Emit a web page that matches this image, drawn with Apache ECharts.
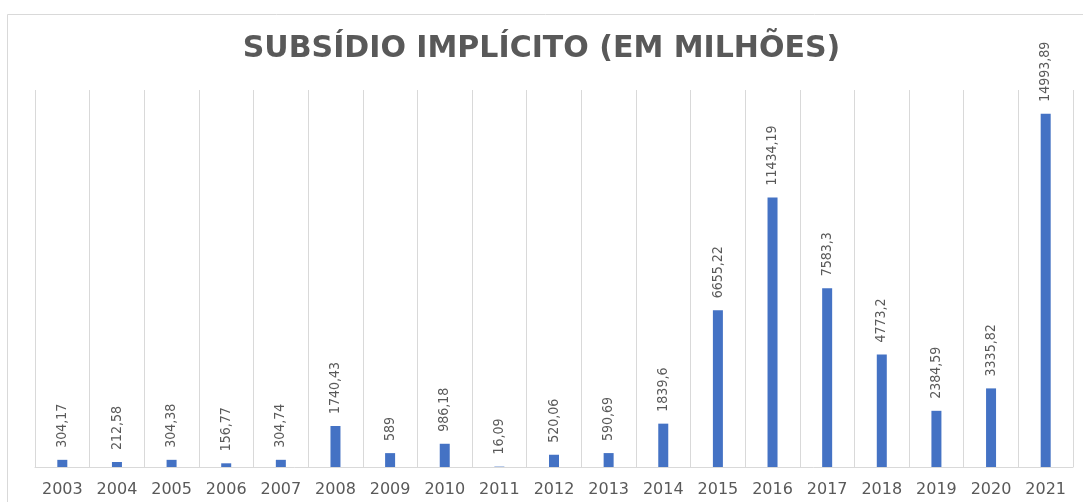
<!DOCTYPE html>
<html><head><meta charset="utf-8">
<script src="https://cdn.jsdelivr.net/npm/echarts@6/dist/echarts.min.js"></script>
<style>html,body{margin:0;padding:0;background:#fff}#c{width:1083px;height:502px}</style>
</head><body><div id="c"></div>
<script>
const categories = ['2003','2004','2005','2006','2007','2008','2009','2010','2011','2012','2013','2014','2015','2016','2017','2018','2019','2020','2021'];
const values = [304.17,212.58,304.38,156.77,304.74,1740.43,589,986.18,16.09,520.06,590.69,1839.6,6655.22,11434.19,7583.3,4773.2,2384.59,3335.82,14993.89];
const titleText = 'SUBSÍDIO IMPLÍCITO (EM MILHÕES)';

const chart = echarts.init(document.getElementById('c'), null, {renderer:'canvas'});
chart.setOption({
  animation:false,
  backgroundColor:'#fff',
  title:{text:titleText,left:'center',top:29,
    textStyle:{fontFamily:'DejaVu Sans',fontWeight:'bold',fontSize:30,color:'#595959'}},
  graphic:[{type:'rect',left:5,top:12,shape:{width:1076,height:495},style:{fill:'none',stroke:'#d9d9d9',lineWidth:1},silent:true}],
  grid:{left:35,right:10,top:90,bottom:35,containLabel:false},
  xAxis:{type:'category',data:categories,boundaryGap:true,
    axisLine:{lineStyle:{color:'#d9d9d9',width:1}},
    axisTick:{show:false},
    splitLine:{show:true,lineStyle:{color:'#d9d9d9',width:1}},
    axisLabel:{color:'#595959',fontSize:16,fontFamily:'DejaVu Sans',margin:15,interval:0}},
  yAxis:{type:'value',min:0,max:16000,show:false,splitLine:{show:false}},
  series:[{type:'bar',data:values,barWidth:10,itemStyle:{color:'#4472C4'},
    label:{show:true,position:'top',rotate:90,align:'left',verticalAlign:'middle',distance:12,
      color:'#595959',fontSize:14,fontFamily:'DejaVu Sans Condensed',
      formatter:p=>String(p.value).replace('.',',')}}]
});
</script></body></html>
